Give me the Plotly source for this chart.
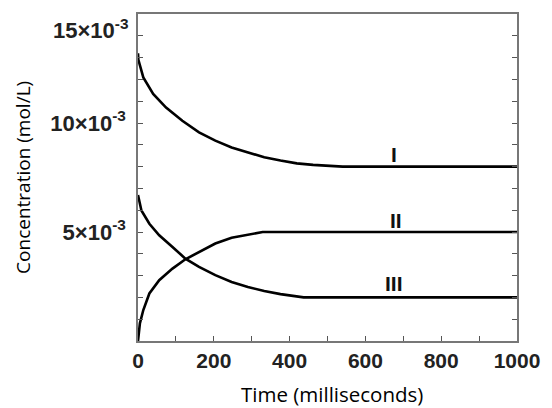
import plotly.graph_objects as go

# Curve I
t_I = [0, 1, 14, 40, 74, 117, 161, 204, 247, 290, 333, 376, 419, 462, 540, 1000]
c_I = [13.2, 12.9, 12.09, 11.33, 10.71, 10.10, 9.57, 9.19, 8.88, 8.66, 8.43, 8.28, 8.15, 8.08, 8.0, 8.0]
# Curve II
t_II = [0, 2, 5, 14, 30, 56, 91, 125, 161, 204, 247, 290, 329, 1000]
c_II = [0.0, 0.4, 0.81, 1.42, 2.18, 2.79, 3.32, 3.75, 4.08, 4.47, 4.74, 4.89, 5.0, 5.0]
# Curve III
t_III = [0, 9, 30, 56, 91, 125, 161, 204, 247, 290, 333, 376, 437, 1000]
c_III = [6.7, 5.99, 5.38, 4.85, 4.31, 3.78, 3.40, 3.02, 2.71, 2.48, 2.29, 2.15, 2.0, 2.0]

labels = ["I", "II", "III"]
label_t = [676, 680, 676]
label_c = [8.55, 5.53, 2.65]

y_tickvals = [5, 10, 15]
y_ticktext = ["5×10<sup>-3</sup>", "10×10<sup>-3</sup>", "15×10<sup>-3</sup>"]
x_tickvals = [0, 200, 400, 600, 800, 1000]

SCALE = 1000.0

fig = go.Figure()
for t, c in [(t_I, c_I), (t_II, c_II), (t_III, c_III)]:
    fig.add_trace(go.Scatter(x=t, y=[v / SCALE for v in c], mode="lines",
                             line=dict(color="black", width=2.6), showlegend=False,
                             hoverinfo="skip"))

for lab, lt, lc in zip(labels, label_t, label_c):
    fig.add_annotation(x=lt, y=lc / SCALE, text="<b>%s</b>" % lab, showarrow=False,
                       font=dict(family="Liberation Sans Narrow, Liberation Sans", size=21,
                                 color="#111"))

xtickfont = dict(family="Liberation Sans", size=21, color="#222")
ytickfont = dict(family="Liberation Sans", size=22, color="#222")

fig.update_xaxes(range=[0, 1000], tickvals=x_tickvals,
                 ticktext=["<b>%d</b>" % v for v in x_tickvals],
                 tickfont=xtickfont, ticks="inside", ticklen=5, tickcolor="#555",
                 minor=dict(dtick=100, ticks="inside", ticklen=5, tickcolor="#555"),
                 showline=True, linecolor="#777", linewidth=1.5, mirror=True,
                 showgrid=False, zeroline=False)
fig.update_yaxes(range=[0, 0.015001], tickvals=[v / SCALE for v in y_tickvals],
                 ticktext=["<b>%s</b>" % s for s in y_ticktext[:2]] + [""],
                 tickfont=ytickfont, ticks="inside", ticklen=5, tickcolor="#555",
                 ticklabelstandoff=6,
                 minor=dict(dtick=0.001, ticks="inside", ticklen=5, tickcolor="#555"),
                 showline=True, linecolor="#777", linewidth=1.5, mirror="allticks",
                 showgrid=False, zeroline=False)

# top tick label drawn slightly below the frame, as in the reference
fig.add_annotation(xref="paper", yref="y", x=0, xanchor="right", xshift=-8,
                   y=y_tickvals[2] / SCALE, yshift=-15, yanchor="middle",
                   text="<b>%s</b>" % y_ticktext[2], showarrow=False, font=ytickfont)

fig.add_annotation(xref="paper", yref="paper", x=0.513, y=-0.163, yanchor="middle",
                   text="Time (milliseconds)", showarrow=False,
                   font=dict(family="Open Sans", size=20.5, color="black"))
fig.add_annotation(xref="paper", yref="paper", x=-0.305, y=0.5, xanchor="center",
                   yanchor="middle",
                   text="Concentration (mol/L)", showarrow=False, textangle=-90,
                   font=dict(family="Open Sans", size=19, color="black"))

fig.update_layout(width=552, height=408, margin=dict(l=138, r=28, t=13, b=67),
                  paper_bgcolor="white", plot_bgcolor="white")
fig.write_html("out.html", config={"displayModeBar": False},
               post_script="document.body.style.margin='0';")
